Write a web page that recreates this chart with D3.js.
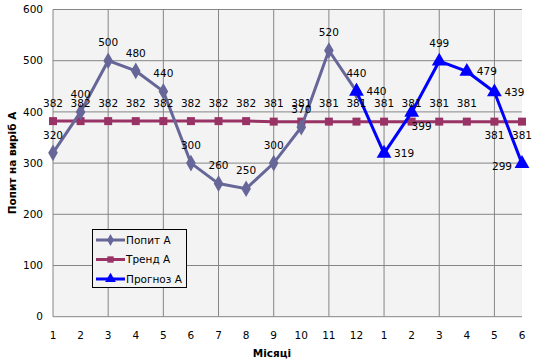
<!DOCTYPE html>
<html><head><meta charset="utf-8">
<script src="https://cdn.jsdelivr.net/npm/d3@7"></script>
<style>body{margin:0;background:#fff}svg{display:block}text{font-family:"DejaVu Sans",Verdana,sans-serif}</style>
</head><body>
<script>
const categories = ["1","2","3","4","5","6","7","8","9","10","11","12","1","2","3","4","5","6"];
const demand = [320,400,500,480,440,300,260,250,300,370,520,440,null,null,null,null,null,null];
const trend = [382,382,382,382,382,382,382,382,381,381,381,381,381,381,381,381,381,381];
const forecast = [null,null,null,null,null,null,null,null,null,null,null,440,319,399,499,479,439,299];
const yTicks = [0,100,200,300,400,500,600];
const seriesNames = ["Попит А","Тренд А","Прогноз А"];
const trendLabelPos = ["above","above","above","above","above","above","above","above","above","above","above","above","above","above","above","above","below","below"];
const forecastLabelPos = [null,null,null,null,null,null,null,null,null,null,null,"right","right","belowright","above","right","right","left"];

const W=549,H=361;
const svg=d3.select("body").append("svg").attr("width",W).attr("height",H);
const x=d3.scalePoint().domain(d3.range(categories.length)).range([53,522]);
const y=d3.scaleLinear().domain([0,600]).range([316.7,9.5]);

svg.append("rect").attr("x",53).attr("y",9.5).attr("width",469).attr("height",307.2).attr("fill","#f3f3f3");
svg.append("g").selectAll("line").data(yTicks).join("line")
  .attr("x1",53).attr("x2",522).attr("y1",d=>y(d)).attr("y2",d=>y(d)).attr("stroke","#858585").attr("stroke-width",1);
svg.append("g").selectAll("line").data(d3.range(2,categories.length,2)).join("line")
  .attr("x1",d=>x(d)).attr("x2",d=>x(d)).attr("y1",9.5).attr("y2",316.7).attr("stroke","#858585").attr("stroke-width",1);
svg.append("line").attr("x1",53).attr("x2",53).attr("y1",9.5).attr("y2",316.7).attr("stroke","#858585");

svg.append("g").selectAll("text").data(yTicks).join("text")
  .attr("x",43).attr("y",d=>y(d)).attr("dy","0.35em").attr("text-anchor","end")
  .attr("font-size",10.5).attr("fill","#000").text(d=>d);
svg.append("g").selectAll("text").data(categories).join("text")
  .attr("x",(d,i)=>x(i)).attr("y",335).attr("dy","0.35em").attr("text-anchor","middle")
  .attr("font-size",10.5).attr("fill","#000").text(d=>d);

svg.append("text").attr("x",272).attr("y",353).attr("dy","0.35em").attr("text-anchor","middle")
  .attr("font-size",10.5).attr("font-weight","bold").text("Місяці");
svg.append("text").attr("transform","translate(12,163) rotate(-90)").attr("dy","0.35em").attr("text-anchor","middle")
  .attr("font-size",10.5).attr("font-weight","bold").text("Попит на виріб А");

const lineOf=arr=>d3.line().defined(d=>d.v!=null).x(d=>x(d.i)).y(d=>y(d.v))(arr.map((v,i)=>({v,i})));

function drawSeries(vals,color,symbol,size){
  svg.append("path").attr("d",lineOf(vals)).attr("fill","none").attr("stroke",color).attr("stroke-width",3);
  const pts=vals.map((v,i)=>({v,i})).filter(d=>d.v!=null);
  svg.append("g").selectAll("path").data(pts).join("path")
    .attr("transform",d=>`translate(${x(d.i)},${y(d.v)})`)
    .attr("d",d3.symbol().type(symbol).size(size)).attr("fill",color);
  return pts;
}
function drawLabels(pts,pos){
  svg.append("g").selectAll("text").data(pts).join("text")
    .attr("x",d=>{const p=pos[d.i];return p==="right"?x(d.i)+10:p==="left"?x(d.i)-10:p==="belowright"?x(d.i)+10:x(d.i);})
    .attr("y",d=>{const p=pos[d.i];return p==="above"?y(d.v)-18:(p==="below"||p==="belowright")?y(d.v)+14:p==="left"?y(d.v)+3:y(d.v);})
    .attr("dy","0.35em")
    .attr("text-anchor",d=>{const p=pos[d.i];return p==="right"?"start":p==="left"?"end":"middle";})
    .attr("font-size",10.5).attr("fill","#000").text(d=>d.v);
}
const ptsT=drawSeries(trend,"#993366",d3.symbolSquare,64);
const ptsD=drawSeries(demand,"#666699",d3.symbolDiamond,80);
const ptsF=drawSeries(forecast,"#0000ff",d3.symbolTriangle,95);
drawLabels(ptsT,trendLabelPos);
drawLabels(ptsD,demand.map(()=>"above"));
drawLabels(ptsF,forecastLabelPos);

const lg=svg.append("g");
lg.append("rect").attr("x",92.5).attr("y",229.5).attr("width",94).attr("height",58).attr("fill","#f3f3f3").attr("stroke","#000");
const legendItems=[{c:"#666699",s:d3.symbolDiamond,sz:40},{c:"#993366",s:d3.symbolSquare,sz:40},{c:"#0000ff",s:d3.symbolTriangle,sz:50}];
legendItems.forEach((it,k)=>{
  const yy=240+k*19.5;
  lg.append("line").attr("x1",96).attr("x2",125).attr("y1",yy).attr("y2",yy).attr("stroke",it.c).attr("stroke-width",3);
  lg.append("path").attr("transform",`translate(110.5,${yy})`).attr("d",d3.symbol().type(it.s).size(it.sz)).attr("fill",it.c);
  lg.append("text").attr("x",126).attr("y",yy).attr("dy","0.35em").attr("font-size",10.5).text(seriesNames[k]);
});
</script>
</body></html>
